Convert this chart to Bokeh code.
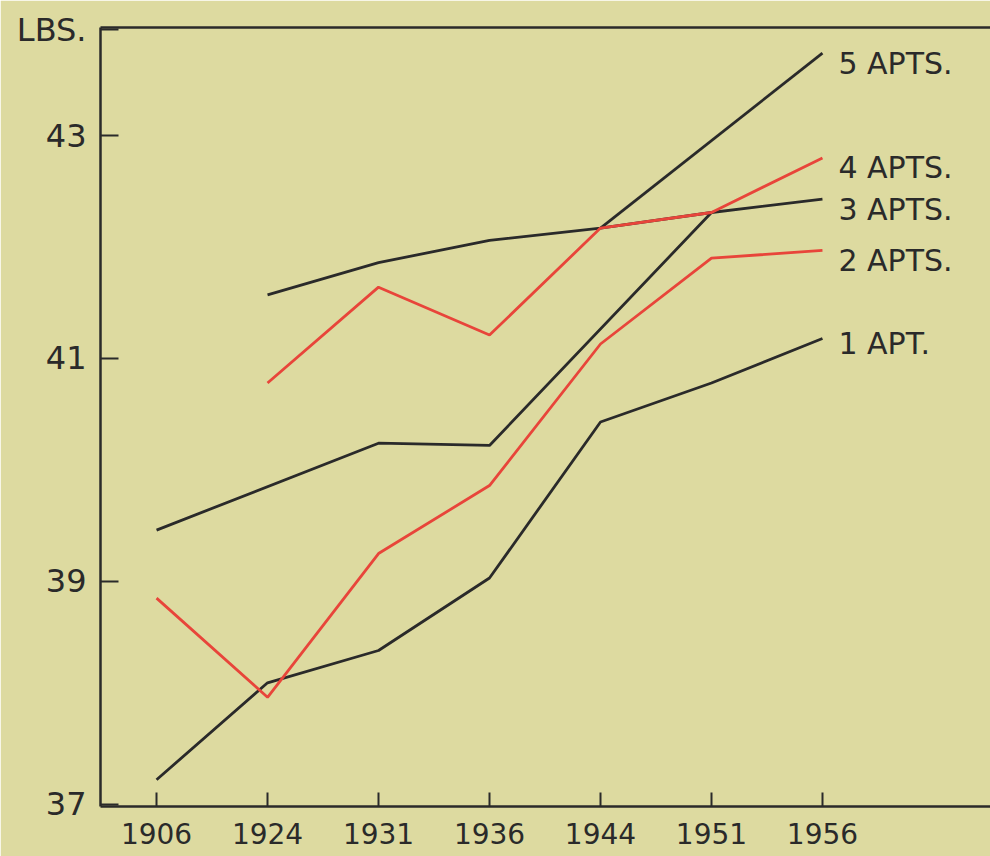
from bokeh.plotting import figure
from bokeh.models import Range1d, LinearAxis, FixedTicker, Label
from bokeh.embed import file_html
from bokeh.resources import INLINE

# ---- data ----
years = ["1906", "1924", "1931", "1936", "1944", "1951", "1956"]
y_ticks = [37, 39, 41, 43]
y_unit = "LBS."

apt1_years = ["1906", "1924", "1931", "1936", "1944", "1951", "1956"]
apt1_vals = [37.22, 38.09, 38.38, 39.03, 40.43, 40.78, 41.18]

apt2_years = ["1906", "1924", "1931", "1936", "1944", "1951", "1956"]
apt2_vals = [38.85, 37.96, 39.25, 39.86, 41.13, 41.90, 41.97]

apt3_years = ["1924", "1931", "1936", "1944", "1951", "1956"]
apt3_vals = [41.57, 41.86, 42.06, 42.17, 42.31, 42.43]

apt4_years = ["1924", "1931", "1936", "1944", "1951", "1956"]
apt4_vals = [40.78, 41.64, 41.21, 42.17, 42.31, 42.80]

apt5_years = ["1906", "1931", "1936", "1951"]
apt5_vals = [39.46, 40.24, 40.22, 42.31]
apt5_end_years = ["1944", "1956"]
apt5_end_vals = [42.17, 43.74]

series_labels = ["5 APTS.", "4 APTS.", "3 APTS.", "2 APTS.", "1 APT."]
label_vals = [apt5_end_vals[-1], apt4_vals[-1], apt3_vals[-1], apt2_vals[-1], apt1_vals[-1]]

# ---- style ----
BG = "#dddaa0"
INK = "#2a2a2a"
RED = "#e8453a"
FONT = "DejaVu Sans"
Y_MIN, Y_MAX = 36.98, 43.97

idx = {y: i for i, y in enumerate(years)}

def xs(lst):
    return [idx[v] for v in lst]

p = figure(width=990, height=856,
           x_range=Range1d(-0.505, 7.514), y_range=Range1d(Y_MIN, Y_MAX),
           output_backend="svg", toolbar_location=None,
           min_border_left=100, min_border_right=0, min_border_top=27, min_border_bottom=50,
           background_fill_color=BG, border_fill_color=BG)
p.outline_line_color = None
p.grid.visible = False

# axes
for ax in [p.xaxis[0], p.yaxis[0]]:
    ax.axis_line_color = INK
    ax.axis_line_width = 2.5
    ax.major_tick_line_color = INK
    ax.major_tick_line_width = 2
    ax.major_tick_out = 0
    ax.minor_tick_line_color = None
    ax.major_label_text_font = FONT
    ax.major_label_text_color = INK

p.xaxis.ticker = FixedTicker(ticks=list(range(len(years))))
p.xaxis.major_label_overrides = {i: y for i, y in enumerate(years)}
p.xaxis.major_tick_in = 14
p.xaxis.major_label_text_font_size = "28px"
p.xaxis.major_label_standoff = 16

unit_tick = Y_MAX - 0.02
p.yaxis.ticker = FixedTicker(ticks=y_ticks + [unit_tick])
p.yaxis.major_label_overrides = {unit_tick: y_unit}
p.yaxis.major_tick_in = 18
p.yaxis.major_label_text_font_size = "32px"
p.yaxis.major_label_standoff = 14

top = LinearAxis(major_tick_line_color=None, minor_tick_line_color=None,
                 major_label_text_font_size="0px", axis_line_color=INK,
                 axis_line_width=2.5, major_label_standoff=0)
top.ticker = FixedTicker(ticks=[])
p.add_layout(top, "above")

# lines (black first, red on top)
lw = 2.8
p.line(xs(apt3_years), apt3_vals, line_color=INK, line_width=lw)
p.line(xs(apt5_years), apt5_vals, line_color=INK, line_width=lw)
p.line(xs(apt5_end_years), apt5_end_vals, line_color=INK, line_width=lw)
p.line(xs(apt1_years), apt1_vals, line_color=INK, line_width=lw)
p.line(xs(apt2_years), apt2_vals, line_color=RED, line_width=lw)
p.line(xs(apt4_years), apt4_vals, line_color=RED, line_width=lw)

# series labels
label_offsets = [10, 10, 10, 10, 5]
for txt, v, off in zip(series_labels, label_vals, label_offsets):
    p.add_layout(Label(x=len(years) - 1, y=v, text=txt, x_offset=16, y_offset=-off,
                       text_font=FONT, text_font_size="30px", text_color=INK,
                       text_baseline="middle", text_align="left"))

open("out.html", "w").write(file_html(p, INLINE))
